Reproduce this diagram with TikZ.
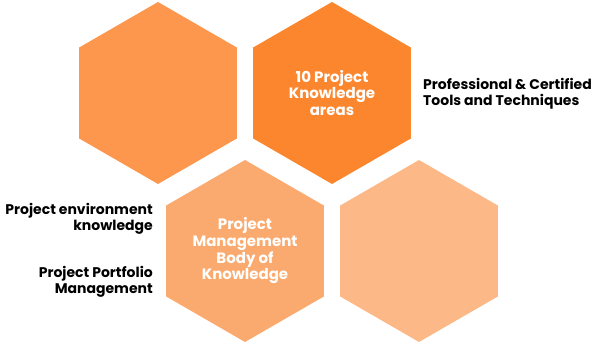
\documentclass[tikz,border=0pt]{standalone}
\usepackage{fontspec}
\setmainfont{Poppins}
\usetikzlibrary{shapes.geometric}

\definecolor{hexA}{RGB}{252,151,77}
\definecolor{hexB}{RGB}{252,134,46}
\definecolor{hexC}{RGB}{250,170,110}
\definecolor{hexD}{RGB}{252,185,135}

\tikzset{
  hexagon/.style = {regular polygon, regular polygon sides=6, shape border rotate=30,
    minimum size=182pt, inner sep=0pt, draw=none, align=center, text=white,
    font=\bfseries\fontsize{15}{16.7}\selectfont},
  sidetext/.style = {text=black, inner sep=0pt}
}

\begin{document}
\begin{tikzpicture}[x=1pt, y=1pt, font = \bfseries\fontsize{14}{16.5}\selectfont]
        \useasboundingbox (0,0) rectangle (592,342);

        \node [hexagon, fill = hexA] (topleft) at (158,249) {};
        \node [hexagon, fill = hexB] (topright) at (332,249) {10 Project\\Knowledge\\areas};
        \node [hexagon, fill = hexC] (pmbok) at (245,91) {Project\\Management\\Body of\\Knowledge};
        \node [hexagon, fill = hexD] (bottomright) at (419,91) {};

        \node [sidetext, align = left, anchor = west] (tools) at (423,248) {Professional \& Certified\\Tools and Techniques};
        \node [sidetext, align = right, anchor = east] (environment) at (153,123) {Project environment\\knowledge};
        \node [sidetext, align = right, anchor = east] (portfolio) at (153,60) {Project Portfolio\\Management};
    \end{tikzpicture}
\end{document}
